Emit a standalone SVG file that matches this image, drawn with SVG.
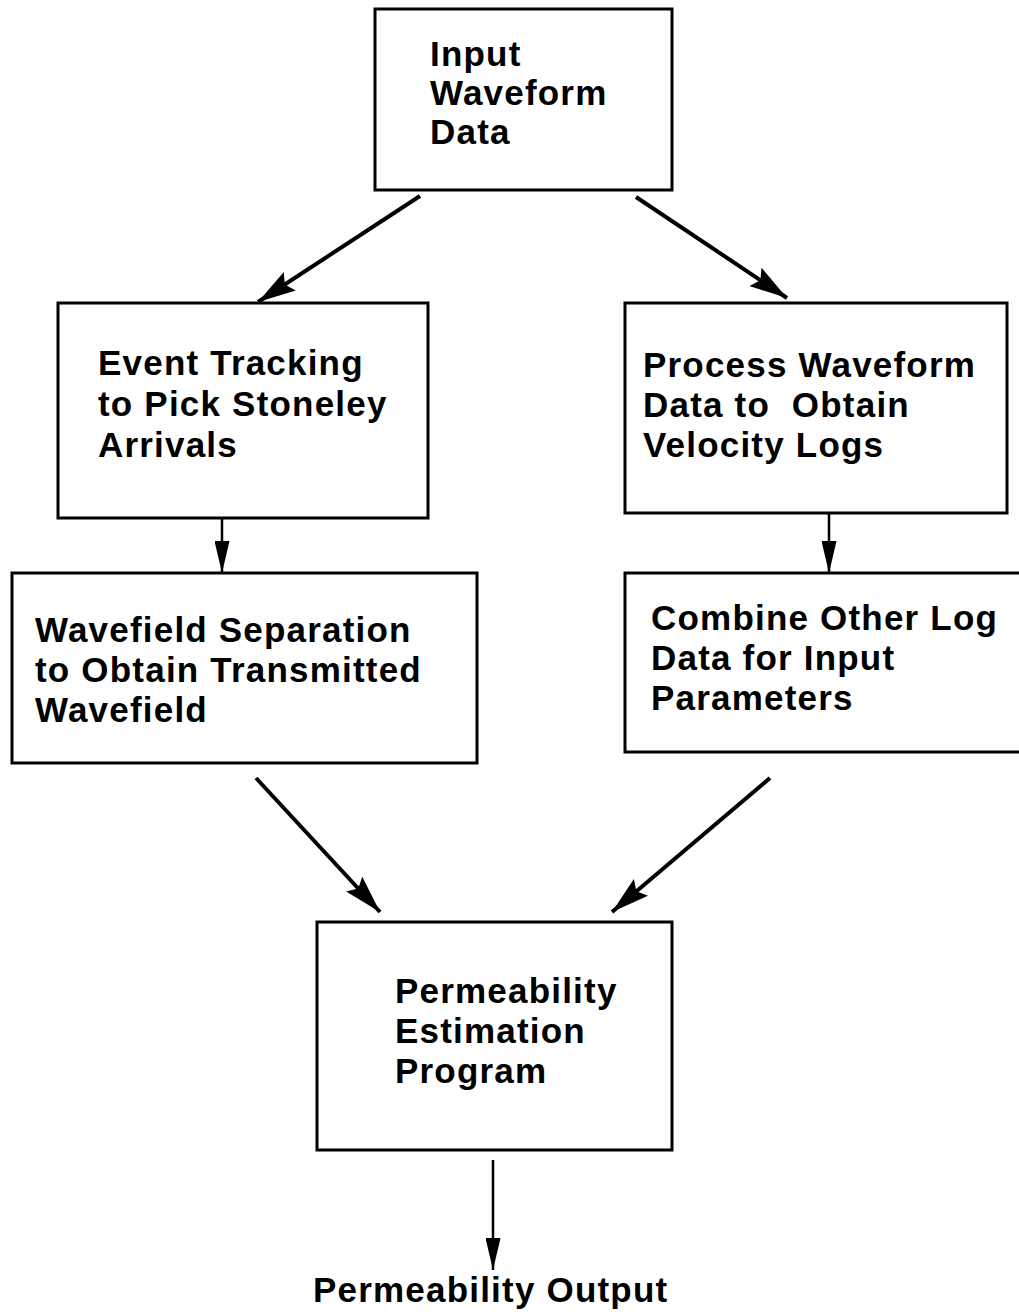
<svg xmlns="http://www.w3.org/2000/svg" width="1019" height="1314" viewBox="0 0 1019 1314">
<style>
.box{fill:#fff;stroke:#000;stroke-width:3}
.t{font-family:"Liberation Sans",Arial,sans-serif;font-weight:bold;font-size:35px;letter-spacing:1.2px;fill:#000}
.c{stroke:#000;stroke-width:4;fill:none}
.cv{stroke:#000;stroke-width:2.5;fill:none}
</style>
<defs>
<marker id="ah" markerUnits="userSpaceOnUse" markerWidth="38" markerHeight="22" refX="38" refY="11" orient="auto"><path d="M0,0 L38,11 L0,22 L6,11 Z" fill="#000"/></marker>
<marker id="ahs" markerUnits="userSpaceOnUse" markerWidth="32" markerHeight="15" refX="32" refY="7.5" orient="auto"><path d="M0,0 L32,7.5 L0,15 Z" fill="#000"/></marker>
</defs>
<rect width="1019" height="1314" fill="#fff"/>
<g id="connectors">
<line class="c" x1="420" y1="196" x2="258" y2="302" marker-end="url(#ah)"/>
<line class="c" x1="636" y1="197" x2="787" y2="298" marker-end="url(#ah)"/>
<line class="cv" x1="222" y1="518" x2="222" y2="573" marker-end="url(#ahs)"/>
<line class="cv" x1="829" y1="513" x2="829" y2="573" marker-end="url(#ahs)"/>
<line class="c" x1="256" y1="778" x2="380" y2="912" marker-end="url(#ah)"/>
<line class="c" x1="770" y1="778" x2="612" y2="912" marker-end="url(#ah)"/>
<line class="cv" x1="493" y1="1160" x2="493" y2="1270" marker-end="url(#ahs)"/>
</g>
<g id="input">
<rect class="box" x="375" y="9" width="297" height="181"/>
<text class="t" x="430" y="66">Input</text>
<text class="t" x="430" y="105">Waveform</text>
<text class="t" x="430" y="144">Data</text>
</g>
<g id="event">
<rect class="box" x="58" y="303" width="370" height="215"/>
<text class="t" x="98" y="375">Event Tracking</text>
<text class="t" x="98" y="416">to Pick Stoneley</text>
<text class="t" x="98" y="457">Arrivals</text>
</g>
<g id="process">
<rect class="box" x="625" y="303" width="382" height="210"/>
<text class="t" x="643" y="377">Process Waveform</text>
<text class="t" x="643" y="417" xml:space="preserve">Data to  Obtain</text>
<text class="t" x="643" y="457">Velocity Logs</text>
</g>
<g id="wavefield">
<rect class="box" x="12" y="573" width="465" height="190"/>
<text class="t" x="35" y="642">Wavefield Separation</text>
<text class="t" x="35" y="682">to Obtain Transmitted</text>
<text class="t" x="35" y="722">Wavefield</text>
</g>
<g id="combine">
<rect class="box" x="625" y="573" width="400" height="179"/>
<text class="t" x="651" y="630">Combine Other Log</text>
<text class="t" x="651" y="670">Data for Input</text>
<text class="t" x="651" y="710">Parameters</text>
</g>
<g id="permeability">
<rect class="box" x="317" y="922" width="355" height="228"/>
<text class="t" x="395" y="1003">Permeability</text>
<text class="t" x="395" y="1043">Estimation</text>
<text class="t" x="395" y="1083">Program</text>
</g>
<g id="output">
<text class="t" x="313" y="1302">Permeability Output</text>
</g>
</svg>
